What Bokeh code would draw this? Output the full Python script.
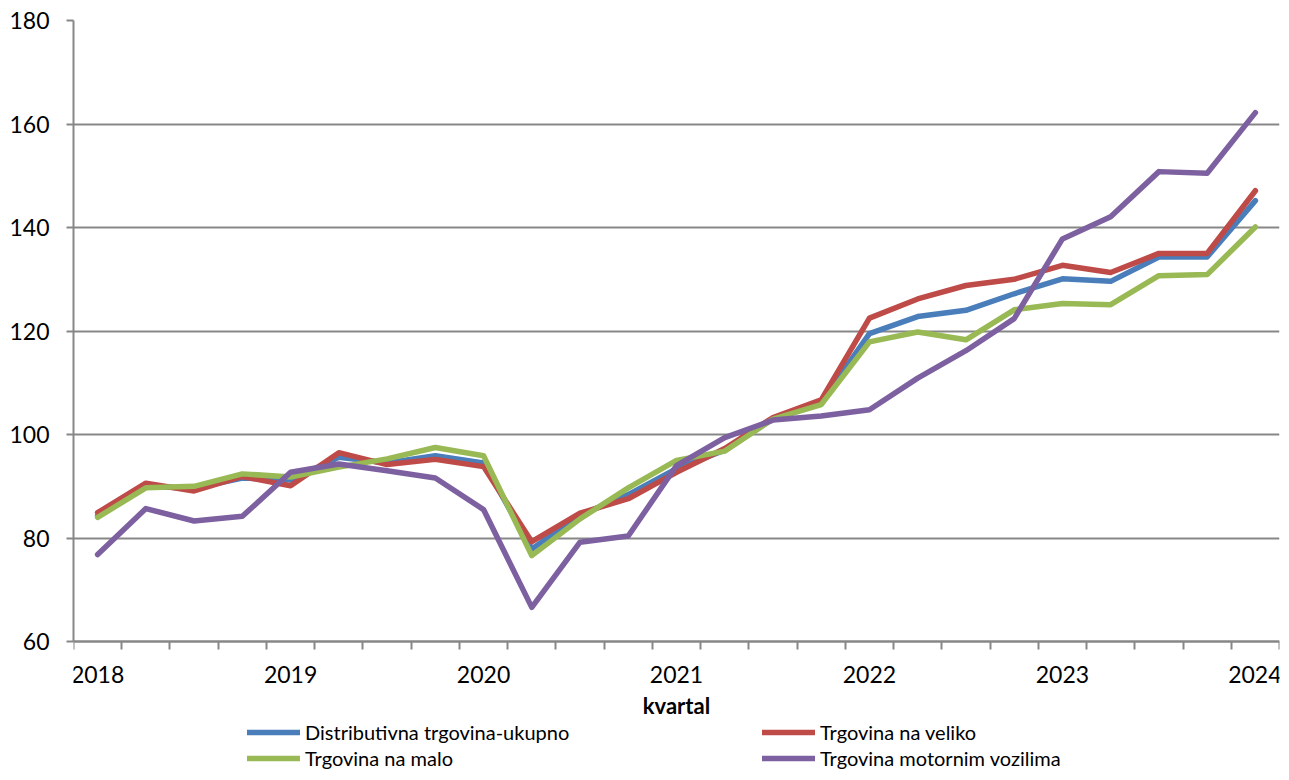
from bokeh.plotting import figure
from bokeh.models import FixedTicker, Legend, LegendItem, Range1d
from bokeh.embed import file_html
from bokeh.resources import INLINE

quarters = [f"{y} Q{q}" for y in range(2018, 2025) for q in range(1, 5)][:25]
year_labels = ["2018", "2019", "2020", "2021", "2022", "2023", "2024"]

series_names = ["Distributivna trgovina-ukupno", "Trgovina na veliko",
                "Trgovina na malo", "Trgovina motornim vozilima"]

ukupno = [84.3, 90.0, 89.6, 91.6, 91.2, 95.6, 94.5, 95.9, 94.5, 77.9,
          84.4, 88.4, 93.4, 97.0, 103.0, 106.2, 119.5, 122.8, 124.0, 127.2,
          130.1, 129.6, 134.3, 134.3, 145.2]
veliko = [84.9, 90.6, 89.1, 91.9, 90.1, 96.5, 94.2, 95.2, 93.8, 79.3,
          84.8, 87.6, 92.7, 97.3, 103.3, 106.7, 122.5, 126.2, 128.8, 130.0,
          132.7, 131.3, 135.0, 135.0, 147.1]
malo = [84.0, 89.7, 90.0, 92.4, 91.8, 93.7, 95.3, 97.5, 95.9, 76.6,
        83.7, 89.7, 95.0, 96.8, 103.0, 105.8, 117.9, 119.8, 118.3, 124.1,
        125.3, 125.1, 130.7, 130.9, 140.1]
motorna = [76.8, 85.7, 83.3, 84.2, 92.7, 94.3, 93.0, 91.6, 85.5, 66.6,
           79.2, 80.4, 94.0, 99.4, 102.8, 103.6, 104.8, 110.9, 116.2, 122.4,
           137.8, 142.1, 150.8, 150.5, 162.2]
y_ticks = [60, 80, 100, 120, 140, 160, 180]

colors = ["#4A7EBB", "#BE4B48", "#98B954", "#7D60A0"]
FONT = "Lato"
GRID = "#878787"

x = list(range(len(quarters)))

# frame runs to the bottom of the figure so the legend below the axis is not clipped;
# the lower part of the y range is only space for axis labels and legend
p = figure(width=1281, height=772, output_backend="svg", toolbar_location=None,
           x_range=Range1d(-0.5, len(quarters) - 0.5), y_range=Range1d(34.7, 180),
           min_border_left=73, min_border_right=2, min_border_top=20, min_border_bottom=0)
p.outline_line_color = None
p.background_fill_color = "white"
p.border_fill_color = "white"

renderers = []
for vals, c in zip([ukupno, veliko, malo, motorna], colors):
    r = p.line(x, vals, line_color=c, line_width=5.5, line_join="round", line_cap="round")
    renderers.append(r)

# x axis, fixed at y = 60
p.xaxis.fixed_location = y_ticks[0]
p.xaxis.ticker = FixedTicker(ticks=[i for i in x if i % 4 == 0],
                             minor_ticks=[i - 0.5 for i in range(len(quarters) + 1)])
p.xaxis.major_label_overrides = {i: year_labels[i // 4] for i in x if i % 4 == 0}
p.xaxis.major_tick_out = 0
p.xaxis.major_tick_in = 0
p.xaxis.minor_tick_out = 8
p.xaxis.minor_tick_in = 0
p.xaxis.minor_tick_line_color = GRID
p.xaxis.minor_tick_line_width = 2
p.xaxis.axis_line_color = GRID
p.xaxis.axis_line_width = 2
p.xaxis.major_label_standoff = 16
p.xaxis.major_label_text_font = FONT
p.xaxis.major_label_text_font_size = "23px"
p.xaxis.major_label_text_color = "black"
p.xaxis.axis_label = "kvartal"
p.xaxis.axis_label_text_font = FONT
p.xaxis.axis_label_text_font_size = "22px"
p.xaxis.axis_label_text_font_style = "bold"
p.xaxis.axis_label_text_color = "black"
p.xaxis.axis_label_standoff = 6
p.xgrid.visible = False

# y axis
p.yaxis.ticker = FixedTicker(ticks=y_ticks)
p.yaxis.bounds = (y_ticks[0], y_ticks[-1])
p.yaxis.minor_tick_line_color = None
p.yaxis.major_tick_out = 7
p.yaxis.major_tick_in = 0
p.yaxis.major_tick_line_color = GRID
p.yaxis.major_tick_line_width = 2
p.yaxis.axis_line_color = GRID
p.yaxis.axis_line_width = 2
p.yaxis.major_label_standoff = 17
p.yaxis.major_label_text_font = FONT
p.yaxis.major_label_text_font_size = "23px"
p.yaxis.major_label_text_color = "black"
p.ygrid.grid_line_color = GRID
p.ygrid.grid_line_width = 2

legend = Legend(items=[LegendItem(label=n, renderers=[r]) for n, r in zip(series_names, renderers)],
                orientation="horizontal", ncols=2, location=(174, 2),
                label_text_font=FONT, label_text_font_size="20px", label_text_color="black",
                glyph_width=53, glyph_height=20, label_height=20, label_width=455,
                label_standoff=5, spacing=2, padding=0, margin=0,
                background_fill_alpha=0, border_line_color=None)
p.add_layout(legend)

open("out.html", "w").write(file_html(p, INLINE))
